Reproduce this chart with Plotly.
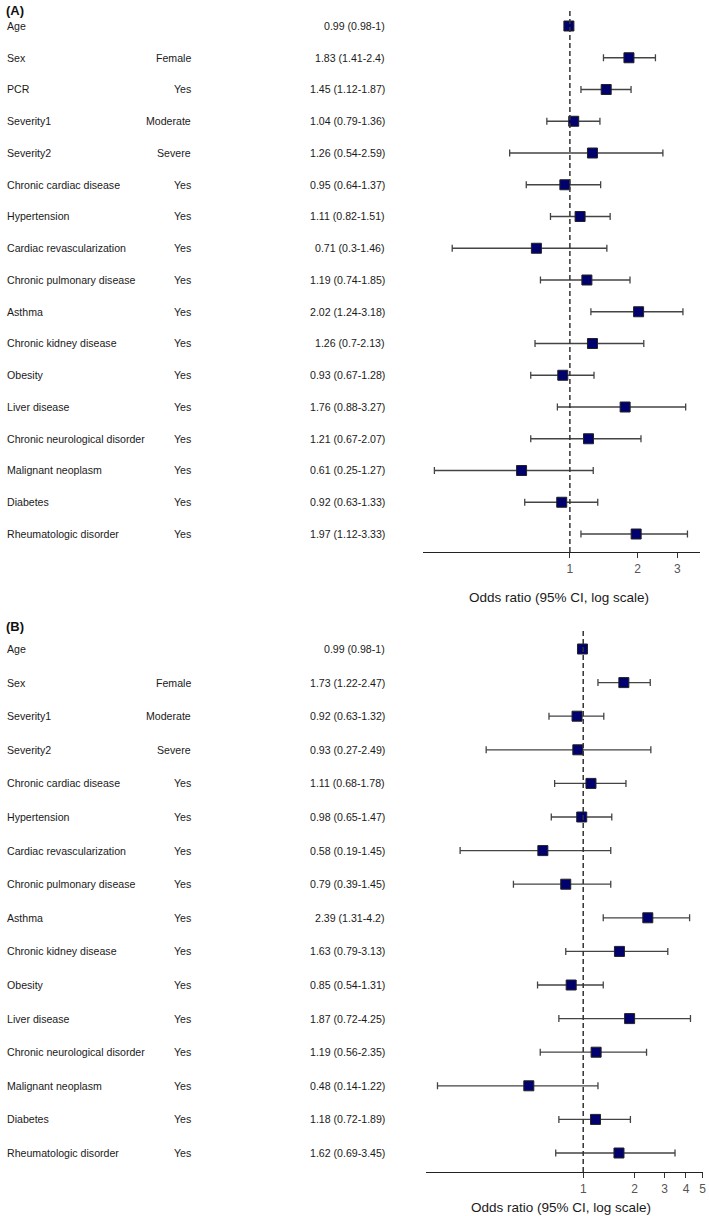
import plotly.graph_objects as go

W, H = 709, 1216

# ---------------- data ----------------
A_vars = ["Age", "Sex", "PCR", "Severity1", "Severity2", "Chronic cardiac disease",
          "Hypertension", "Cardiac revascularization", "Chronic pulmonary disease",
          "Asthma", "Chronic kidney disease", "Obesity", "Liver disease",
          "Chronic neurological disorder", "Malignant neoplasm", "Diabetes",
          "Rheumatologic disorder"]
A_levels = ["", "Female", "Yes", "Moderate", "Severe", "Yes", "Yes", "Yes", "Yes",
            "Yes", "Yes", "Yes", "Yes", "Yes", "Yes", "Yes", "Yes"]
A_or = [0.99, 1.83, 1.45, 1.04, 1.26, 0.95, 1.11, 0.71, 1.19, 2.02, 1.26, 0.93, 1.76,
        1.21, 0.61, 0.92, 1.97]
A_lo = [0.98, 1.41, 1.12, 0.79, 0.54, 0.64, 0.82, 0.3, 0.74, 1.24, 0.7, 0.67, 0.88,
        0.67, 0.25, 0.63, 1.12]
A_hi = [1, 2.4, 1.87, 1.36, 2.59, 1.37, 1.51, 1.46, 1.85, 3.18, 2.13, 1.28, 3.27,
        2.07, 1.27, 1.33, 3.33]
A_ticks = [1, 2, 3]

B_vars = ["Age", "Sex", "Severity1", "Severity2", "Chronic cardiac disease",
          "Hypertension", "Cardiac revascularization", "Chronic pulmonary disease",
          "Asthma", "Chronic kidney disease", "Obesity", "Liver disease",
          "Chronic neurological disorder", "Malignant neoplasm", "Diabetes",
          "Rheumatologic disorder"]
B_levels = ["", "Female", "Moderate", "Severe", "Yes", "Yes", "Yes", "Yes", "Yes",
            "Yes", "Yes", "Yes", "Yes", "Yes", "Yes", "Yes"]
B_or = [0.99, 1.73, 0.92, 0.93, 1.11, 0.98, 0.58, 0.79, 2.39, 1.63, 0.85, 1.87, 1.19,
        0.48, 1.18, 1.62]
B_lo = [0.98, 1.22, 0.63, 0.27, 0.68, 0.65, 0.19, 0.39, 1.31, 0.79, 0.54, 0.72, 0.56,
        0.14, 0.72, 0.69]
B_hi = [1, 2.47, 1.32, 2.49, 1.78, 1.47, 1.45, 1.45, 4.2, 3.13, 1.31, 4.25, 2.35,
        1.22, 1.89, 3.45]
B_ticks = [1, 2, 3, 4, 5]

AXIS_TITLE = "Odds ratio (95% CI, log scale)"

# ---------------- styling ----------------
FONT = "Liberation Sans, Arial, sans-serif"
TXT = "#1a1a1a"
ROW_FS = 10.6
NAVY = "#00006e"

fig = go.Figure()
annotations = []
shapes = []


def px_y(p):
    return 1 - p / H


def panel(idx, vars_, levels, ors, los, his, ticks, xdom_px, one_px, px_per_dec,
          row0_px, row_step, top_px, axis_px, label, label_y_px, title_x_px, title_y_px):
    xa = "x" if idx == 1 else f"x{idx}"
    ya = "y" if idx == 1 else f"y{idx}"
    n = len(vars_)
    rows = list(range(n))
    fig.add_trace(go.Scatter(
        x=ors, y=rows, mode="markers", xaxis=xa, yaxis=ya,
        marker=dict(symbol="square", size=10, color=NAVY,
                    line=dict(color="#222222", width=1)),
        error_x=dict(type="data", symmetric=False,
                     array=[h - o for h, o in zip(his, ors)],
                     arrayminus=[o - l for o, l in zip(ors, los)],
                     color="#444444", thickness=1.3, width=3.5),
        hoverinfo="skip", showlegend=False))
    x0, x1 = xdom_px
    rng = [(x0 - one_px) / px_per_dec, (x1 - one_px) / px_per_dec]
    yr = [(axis_px - row0_px) / row_step, (top_px - row0_px) / row_step]
    xkey = "xaxis" if idx == 1 else f"xaxis{idx}"
    ykey = "yaxis" if idx == 1 else f"yaxis{idx}"
    fig.update_layout(**{
        xkey: dict(type="log", range=rng, domain=[x0 / W, x1 / W], anchor=ya,
                   showgrid=False, zeroline=False, showline=True,
                   linecolor="#222222", linewidth=1.3, ticks="outside",
                   ticklen=5, tickwidth=1.3, tickcolor="#333333",
                   tickvals=ticks, ticktext=[str(t) for t in ticks],
                   ticklabeloverflow="allow",
                   tickfont=dict(family=FONT, size=12, color="#555555")),
        ykey: dict(range=yr, domain=[px_y(axis_px), px_y(top_px)], anchor=xa,
                   showgrid=False, zeroline=False, showline=False,
                   showticklabels=False, ticks=""),
    })
    shapes.append(dict(type="line", xref=xa, yref=f"{ya} domain", x0=1, x1=1,
                       y0=0, y1=1, line=dict(color="#333333", width=1.5, dash="5px,3px")))
    for i in rows:
        annotations.append(dict(x=5 / W, xref="paper", y=i, yref=ya, text=vars_[i],
                                xanchor="left", yanchor="middle", showarrow=False,
                                font=dict(family=FONT, size=ROW_FS, color=TXT)))
        if levels[i]:
            annotations.append(dict(x=194 / W, xref="paper", y=i, yref=ya,
                                    text=levels[i], xanchor="right", yanchor="middle",
                                    showarrow=False,
                                    font=dict(family=FONT, size=ROW_FS, color=TXT)))
        annotations.append(dict(x=389 / W, xref="paper", y=i, yref=ya,
                                text=f"{ors[i]:g} ({los[i]:g}-{his[i]:g})",
                                xanchor="right", yanchor="middle", showarrow=False,
                                font=dict(family=FONT, size=ROW_FS, color=TXT)))
    annotations.append(dict(x=4 / W, xref="paper", y=px_y(label_y_px), yref="paper",
                            text=f"<b>{label}</b>", xanchor="left", yanchor="middle",
                            showarrow=False, font=dict(family=FONT, size=13, color="#111111")))
    annotations.append(dict(x=title_x_px / W, xref="paper", y=px_y(title_y_px), yref="paper",
                            text=AXIS_TITLE, xanchor="center", yanchor="middle",
                            showarrow=False, font=dict(family=FONT, size=13.5, color=TXT)))


panel(1, A_vars, A_levels, A_or, A_lo, A_hi, A_ticks, (425, 703), 572.3, 226.0,
      26, 31.75, 8, 552, "(A)", 10, 561, 597)
panel(2, B_vars, B_levels, B_or, B_lo, B_hi, B_ticks, (428, 706), 585.7, 171.4,
      649, 33.6, 629, 1172, "(B)", 626, 563.5, 1207)

fig.update_layout(width=W, height=H, margin=dict(l=0, r=0, t=0, b=0),
                  paper_bgcolor="white", plot_bgcolor="white",
                  annotations=annotations, shapes=shapes, showlegend=False)

fig.write_html("out.html", config={"displayModeBar": False},
               post_script="document.body.style.margin='0';"
                           "document.body.style.overflow='hidden';")
